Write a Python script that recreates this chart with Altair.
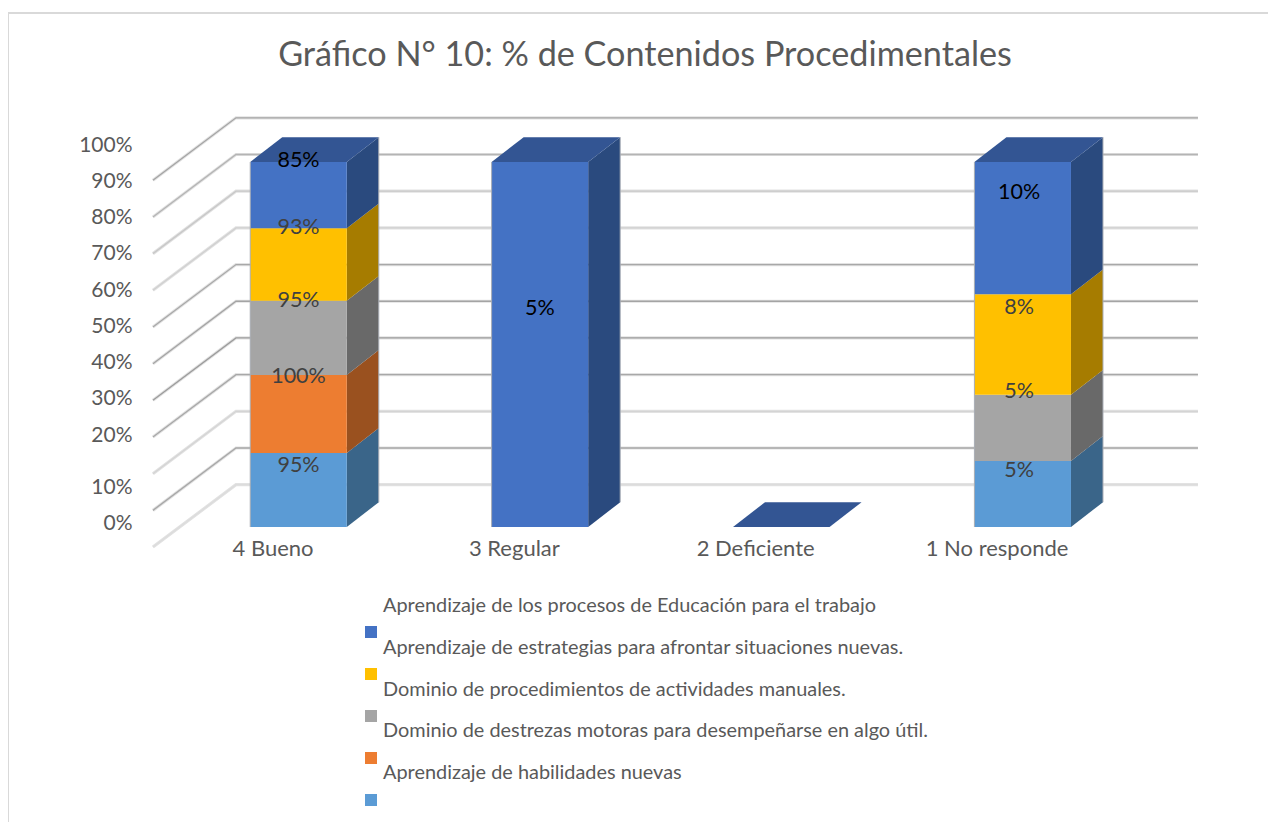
import altair as alt
import pandas as pd

TITLE = "Gráfico N° 10: % de Contenidos Procedimentales"
categories = ["4 Bueno", "3 Regular", "2 Deficiente", "1 No responde"]
series = [
    "Aprendizaje de los procesos de Educación para el trabajo",
    "Aprendizaje de estrategias para afrontar situaciones nuevas.",
    "Dominio de procedimientos de actividades manuales.",
    "Dominio de destrezas motoras para desempeñarse en algo útil.",
    "Aprendizaje de habilidades nuevas",
]
# values, top series first (same order as series), one list per category
values_bueno = [85, 93, 95, 100, 95]
values_regular = [5, 0, 0, 0, 0]
values_deficiente = [0, 0, 0, 0, 0]
values_noresponde = [10, 7.6, 5, 0, 5]
table = [values_bueno, values_regular, values_deficiente, values_noresponde]
ticks = [0, 10, 20, 30, 40, 50, 60, 70, 80, 90, 100]

# colours
front = ["#4472c4", "#ffc000", "#a5a5a5", "#ed7d31", "#5b9bd5"]
side = ["#2a4a7e", "#a67c00", "#696969", "#9a511f", "#3a6589"]
top_colour = "#335593"
grid_tone = ["#dcdcdc", "#a8a8a8", "#d4d4d4", "#a8a8a8", "#9c9c9c", "#a4a4a4",
             "#a8a8a8", "#d0d0d0", "#c8c8c8", "#b4b4b4", "#a4a4a4"]

# geometry of the fake-3D projection, in scale units
W, H = 1260, 814
BAR_HALF = 0.2
DEPTH_X = 0.1326
DEPTH_Y = 6.8
BACK_Y = 11.6
BACK_LEFT, BACK_RIGHT = -0.259, 3.726
SIDE_LEFT = -0.603
SIDE_Y = -5.5
PX_PER_PCT = 3.65
PX_PER_CAT = 241.4
X_ORIGIN_PX, Y_ORIGIN_PX = 298.5, 527
to_x = lambda px: (px - X_ORIGIN_PX) / PX_PER_CAT
to_y = lambda px: (Y_ORIGIN_PX - px) / PX_PER_PCT
X_MIN, X_MAX = to_x(8), to_x(8 + W)
Y_MIN, Y_MAX = to_y(8 + H), to_y(8)

# manual displacement of the data labels from the top of their segment
label_shift = {
    (0, 0): -1, (0, 1): 0, (0, 2): 0, (0, 3): 2, (0, 4): 13,
    (1, 0): 147,
    (3, 0): 31, (3, 1): 14, (3, 2): -3, (3, 4): 10,
}
label_nudge = [0, 0, 0, -3.5]

front_rows, side_rows, top_rows, label_rows, edge_rows = [], [], [], [], []
for c, row in enumerate(table):
    total = sum(row)
    t = 100 if total else 0
    L, R, D = c - BAR_HALF, c + BAR_HALF, DEPTH_X
    for x, lo, hi in [(L, t, t), (L + D, t, t + DEPTH_Y), (R, t, t + DEPTH_Y), (R + D, t + DEPTH_Y, t + DEPTH_Y)]:
        top_rows.append({"cat": c, "x": x, "y": lo, "y2": hi})
    if total:
        edge_rows.append({"x": L, "y": 0, "y2": 100})
        edge_rows.append({"x": R + D, "y": DEPTH_Y, "y2": 100 + DEPTH_Y})
    base = 0
    for s in range(len(series) - 1, -1, -1):
        v = row[s]
        if not v:
            continue
        start, end = base, base + v / total * 100
        base = end
        front_rows.append({"cat": c, "s": series[s], "x": L, "x2": R, "y": start, "y2": end})
        for dx, dy in [(0, 0), (DEPTH_X, DEPTH_Y)]:
            side_rows.append({"cat": c, "s": series[s], "x": R + dx, "y": start + dy, "y2": end + dy})
        label_rows.append({"x": c + label_nudge[c] / PX_PER_CAT, "y": end - label_shift[(c, s)] / PX_PER_PCT,
                           "t": f"{round(v)}%", "dark": (s == 0)})

grid_rows = []
for i, t in enumerate(ticks):
    for x, off in [(SIDE_LEFT, SIDE_Y), (BACK_LEFT, BACK_Y), (BACK_RIGHT, BACK_Y)]:
        grid_rows.append({"tick": t, "x": x, "y": t * 1.005 + off, "tone": grid_tone[i]})

legend_rows = []
for r, s in enumerate(series):
    legend_rows.append({"s": s, "r": r, "sx": to_x(371), "sy": to_y(632 + 42 * r),
                        "tx": to_x(383), "ty": to_y(606 + 41.75 * r)})
legend_df = pd.DataFrame(legend_rows)

xs = alt.Scale(domain=[X_MIN, X_MAX], range=[0, W], nice=False, zero=False)
ys = alt.Scale(domain=[Y_MIN, Y_MAX], range=[H, 0], nice=False, zero=False)
X = lambda f="x": alt.X(f"{f}:Q", scale=xs, axis=None)
Y = lambda f="y": alt.Y(f"{f}:Q", scale=ys, axis=None)

grid_df = pd.DataFrame(grid_rows)
grid_under = alt.Chart(grid_df).mark_line(strokeWidth=3.2, color="#e2e2e2", interpolate="linear").encode(
    x=X(), y=Y(), detail="tick:N", order="x:Q")
grid_over = alt.Chart(grid_df).mark_line(strokeWidth=1.3, interpolate="linear").encode(
    x=X(), y=Y(), detail="tick:N", order="x:Q", color=alt.Color("tone:N", scale=None))

sides = alt.Chart(pd.DataFrame(side_rows)).mark_area(orient="vertical").encode(
    x=X(), y=Y(), y2="y2:Q", detail="cat:N",
    color=alt.Color("s:N", scale=alt.Scale(domain=series, range=side), legend=None))

tops = alt.Chart(pd.DataFrame(top_rows)).mark_area(orient="vertical", color=top_colour).encode(
    x=X(), y=Y(), y2="y2:Q", detail="cat:N")

fronts = alt.Chart(pd.DataFrame(front_rows)).mark_bar().encode(
    x=X(), x2="x2:Q", y=Y(), y2="y2:Q",
    color=alt.Color("s:N", scale=alt.Scale(domain=series, range=front), legend=None))

edges = alt.Chart(pd.DataFrame(edge_rows)).mark_rule(color="#a9adb5", strokeWidth=1).encode(
    x=X(), y=Y(), y2="y2:Q")

legend_squares = alt.Chart(legend_df).mark_square(size=144, opacity=1).encode(
    x=X("sx"), y=Y("sy"),
    color=alt.Color("s:N", scale=alt.Scale(domain=series, range=front), legend=None))
legend_text = alt.Chart(legend_df).mark_text(
    font="Lato", fontSize=19.9, color="#595959", align="left", baseline="middle").encode(
    x=X("tx"), y=Y("ty"), text="s:N")

labels_df = pd.DataFrame(label_rows)
labels_grey = alt.Chart(labels_df[~labels_df.dark]).mark_text(
    font="Lato", fontSize=21.5, color="#404040").encode(x=X(), y=Y(), text="t:N")
labels_dark = alt.Chart(labels_df[labels_df.dark]).mark_text(
    font="Lato", fontSize=21.5, color="#000000").encode(x=X(), y=Y(), text="t:N")

x_axis = alt.Chart(pd.DataFrame({"cat": categories})).mark_point(opacity=0).encode(
    x=alt.X("cat:N", sort=categories,
            scale=alt.Scale(type="point", domain=categories, range=[264.5, 988.5], padding=0),
            axis=alt.Axis(orient="bottom", offset=-290, title=None, domain=False, ticks=False, grid=False,
                          labelAngle=0, labelFont="Lato", labelFontSize=22, labelColor="#595959",
                          labelPadding=6, labelOverlap=False)))

y_axis = alt.Chart(pd.DataFrame({"t": ticks})).mark_point(opacity=0).encode(
    y=alt.Y("t:Q", scale=alt.Scale(domain=[0, 10, 20, 100], range=[515, 479, 427, 137], nice=False, zero=False),
            axis=alt.Axis(orient="left", offset=-128, title=None, domain=False, ticks=False, grid=False,
                          values=ticks, labelExpr="datum.value + '%'", labelFont="Lato", labelFontSize=21,
                          labelColor="#595959", labelPadding=4, labelOverlap=False)))

frame_df = pd.DataFrame({"x": [X_MIN, X_MIN, X_MAX], "y": [Y_MIN, to_y(13), to_y(13)]})
frame = alt.Chart(frame_df.reset_index()).mark_line(color="#d9d9d9", strokeWidth=2).encode(
    x=X(), y=Y(), order="index:Q")

chart = alt.layer(
    frame, grid_under, grid_over, sides, tops, fronts, edges, labels_grey, labels_dark,
    legend_squares, legend_text, x_axis, y_axis
).resolve_scale(x="independent", y="independent", color="independent").properties(
    width=W, height=H, padding=0,
    autosize=alt.AutoSizeParams(type="none"),
    title=alt.TitleParams(TITLE, font="Lato", fontSize=34.2, fontWeight="normal", color="#595959",
                          anchor="middle", frame="group", dx=7, offset=-65),
).configure_view(stroke=None)

chart.save("out.html", embed_options={"renderer": "svg", "actions": False})
